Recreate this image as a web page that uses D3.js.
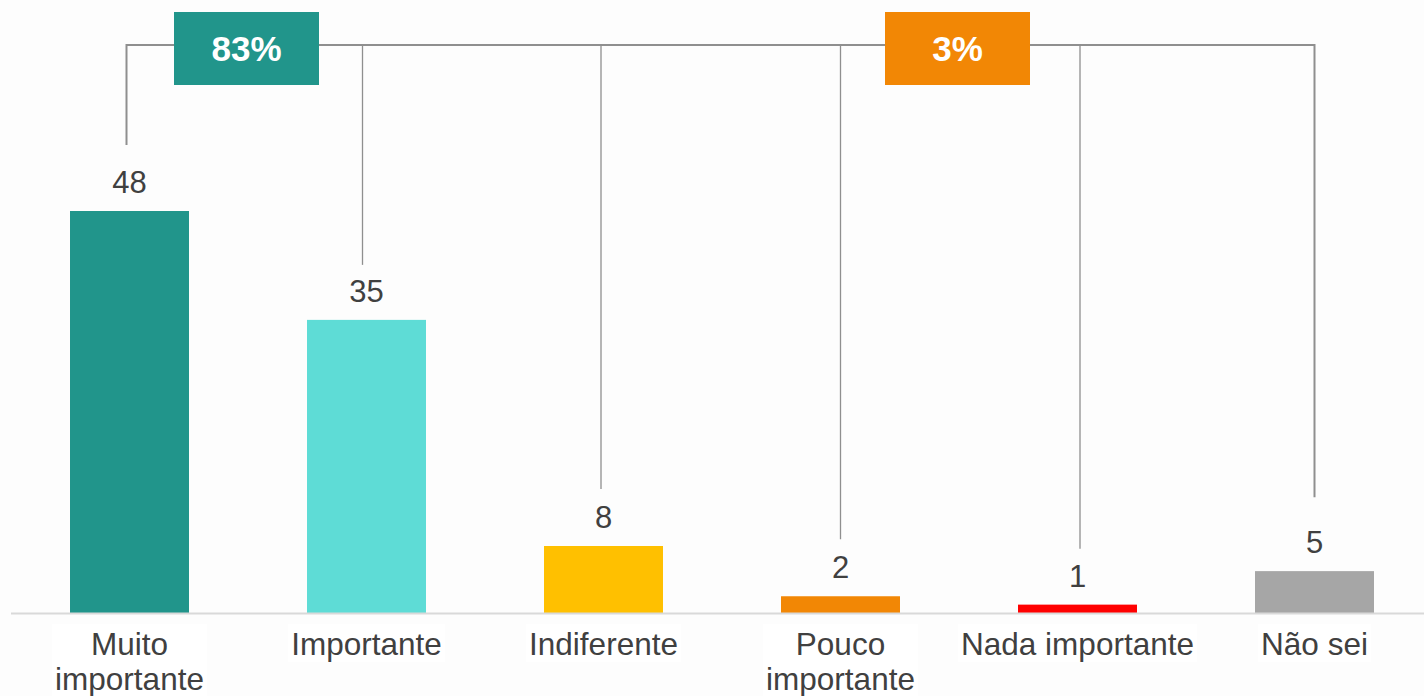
<!DOCTYPE html>
<html>
<head>
<meta charset="utf-8">
<script src="https://cdn.jsdelivr.net/npm/d3@7/dist/d3.min.js"></script>
<style>
  html, body { margin: 0; padding: 0; background: #fdfdfd; }
  svg { display: block; }
  text { font-family: "Liberation Sans", Arial, sans-serif; }
</style>
</head>
<body>
<svg id="chart" width="1424" height="696"></svg>
<script>
// Survey answers: share of respondents (%) per importance level
const categories = ["Muito importante", "Importante", "Indiferente", "Pouco importante", "Nada importante", "Não sei"];
const values = [48, 35, 8, 2, 1, 5];
const barColors = ["#21958b", "#5edcd6", "#ffc000", "#f28705", "#ff0000", "#a6a6a6"];

// Summary brackets: the combined share of two neighbouring answers
const groupLabels = ["83%", "3%"];
const groupPairs = [[0, 1], [3, 4]];
const groupColors = ["#21958b", "#f28705"];

// Category labels drawn on two lines
const twoLineLabels = new Set(["Muito importante", "Pouco importante"]);

const svg = d3.select("#chart");
const baselineY = 613;

const x = d3.scaleBand()
  .domain(categories)
  .range([11, 1433])
  .paddingInner(0.498)
  .paddingOuter(0.249);

const y = d3.scaleLinear()
  .domain([0, 48])
  .range([baselineY, 211]);

const cx = c => x(c) + x.bandwidth() / 2;

// Leader lines: clearance above each bar's top and small horizontal nudge
const leaderGap = [66, 55, 57, 57, 56, 74];
const leaderShift = [-3, -4, -2.5, 0, 2.5, 0];
const bracketY = 45;
const lx = (c, i) => cx(c) + leaderShift[i];

const lines = svg.append("g").attr("class", "leaders");
lines.append("line")
  .attr("x1", lx(categories[0], 0))
  .attr("x2", lx(categories[categories.length - 1], categories.length - 1))
  .attr("y1", bracketY).attr("y2", bracketY)
  .attr("stroke", "#8f8f8f").attr("stroke-width", 2);

lines.selectAll("line.drop")
  .data(categories)
  .join("line")
  .attr("class", "drop")
  .attr("x1", lx)
  .attr("x2", lx)
  .attr("y1", bracketY - 1)
  .attr("y2", (c, i) => y(values[i]) - leaderGap[i])
  .attr("stroke", "#8f8f8f")
  .attr("stroke-width", (c, i) => (i === 0 || i === categories.length - 1) ? 2 : 1.3);

// Bars
svg.append("g").selectAll("rect")
  .data(categories)
  .join("rect")
  .attr("x", c => x(c))
  .attr("y", (c, i) => y(values[i]))
  .attr("width", x.bandwidth())
  .attr("height", (c, i) => baselineY - y(values[i]))
  .attr("fill", (c, i) => barColors[i]);

// Baseline
svg.append("line")
  .attr("x1", 11).attr("x2", 1424)
  .attr("y1", baselineY + 0.5).attr("y2", baselineY + 0.5)
  .attr("stroke", "#d9d9d9").attr("stroke-width", 2);

// Value labels
svg.append("g").selectAll("text")
  .data(categories)
  .join("text")
  .attr("x", c => cx(c))
  .attr("y", (c, i) => y(values[i]) - 18)
  .attr("text-anchor", "middle")
  .attr("font-size", 31)
  .attr("fill", "#404040")
  .text((c, i) => values[i]);

// Category labels
const catG = svg.append("g").selectAll("g")
  .data(categories)
  .join("g")
  .attr("transform", c => `translate(${cx(c)},0)`);

catG.each(function (c) {
  const g = d3.select(this);
  const parts = twoLineLabels.has(c) ? c.split(" ") : [c];
  const t = g.append("text")
    .attr("text-anchor", "middle")
    .attr("font-size", 31.5)
    .attr("fill", "#404040");
  parts.forEach((p, k) => {
    t.append("tspan").attr("x", 0).attr("y", 655 + k * 35).text(p);
  });
  const bb = t.node().getBBox();
  g.insert("rect", "text")
    .attr("x", bb.x - 3).attr("y", 624)
    .attr("width", bb.width + 6)
    .attr("height", parts.length > 1 ? 80 : 38)
    .attr("fill", "#ffffff");
});

// Summary boxes over the bracket
const boxW = 145, boxH = 73;
const boxes = svg.append("g").selectAll("g")
  .data(groupLabels)
  .join("g")
  .attr("transform", (d, i) => {
    const [a, b] = groupPairs[i];
    const mid = (cx(categories[a]) + cx(categories[b])) / 2 - 1.5;
    return `translate(${mid},${bracketY + 3.5})`;
  });

boxes.append("rect")
  .attr("x", -boxW / 2).attr("y", -boxH / 2)
  .attr("width", boxW).attr("height", boxH)
  .attr("fill", (d, i) => groupColors[i]);

boxes.append("text")
  .attr("text-anchor", "middle")
  .attr("dy", "0.36em")
  .attr("font-size", 35)
  .attr("font-weight", "bold")
  .attr("fill", "#ffffff")
  .text(d => d);
</script>
</body>
</html>
